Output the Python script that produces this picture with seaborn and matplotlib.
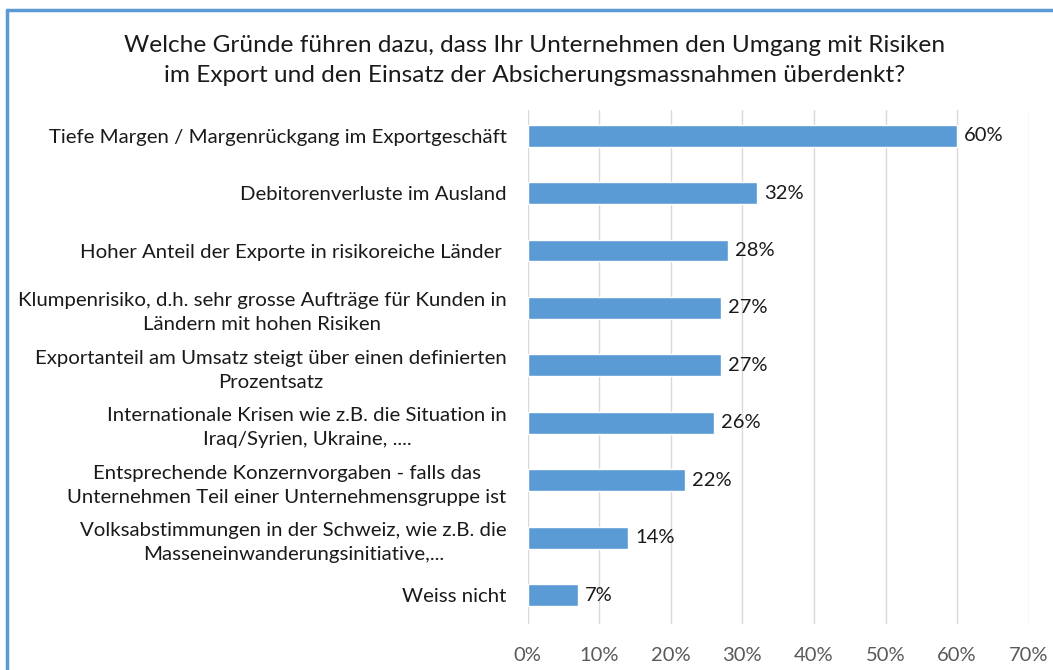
import pandas as pd
import seaborn as sns
import matplotlib.pyplot as plt
from matplotlib.lines import Line2D
from matplotlib.ticker import PercentFormatter

# Data
reasons = [
    'Tiefe Margen / Margenrückgang im Exportgeschäft',
    'Debitorenverluste im Ausland',
    'Hoher Anteil der Exporte in risikoreiche Länder ',
    'Klumpenrisiko, d.h. sehr grosse Aufträge für Kunden in\nLändern mit hohen Risiken',
    'Exportanteil am Umsatz steigt über einen definierten\nProzentsatz',
    'Internationale Krisen wie z.B. die Situation in\nIraq/Syrien, Ukraine, ....',
    'Entsprechende Konzernvorgaben - falls das\nUnternehmen Teil einer Unternehmensgruppe ist',
    'Volksabstimmungen in der Schweiz, wie z.B. die\nMasseneinwanderungsinitiative,...',
    'Weiss nicht',
]
shares = [60, 32, 28, 27, 27, 26, 22, 14, 7]
title = ('Welche Gründe führen dazu, dass Ihr Unternehmen den Umgang mit Risiken\n'
         'im Export und den Einsatz der Absicherungsmassnahmen überdenkt?')

df = pd.DataFrame({'reason': reasons, 'share': shares})

sns.set_style('white')
plt.rcParams['font.family'] = ['Lato', 'DejaVu Sans']

fig = plt.figure(figsize=(10.53, 6.70), dpi=100)
ax = fig.add_axes([0.501, 0.069, 0.476, 0.767])

sns.barplot(data=df, x='share', y='reason', orient='h', color='#5B9BD5',
            width=0.38, saturation=1, ax=ax, zorder=2)

ax.set_xlim(0, 70)
ax.set_ylim(8.5, -0.45)
ax.set_xticks(range(0, 71, 10))
ax.xaxis.set_major_formatter(PercentFormatter(decimals=0))
ax.grid(axis='x', color='#D9D9D9', linewidth=1, zorder=0)
ax.set_xlabel('')
ax.set_ylabel('')
for s in ax.spines.values():
    s.set_visible(False)
ax.tick_params(axis='x', length=0, labelsize=14.5, labelcolor='#595959', pad=17)
ax.tick_params(axis='y', length=0, labelsize=14.7, labelcolor='#1a1a1a', pad=15)
for lbl in ax.get_yticklabels():
    lbl.set_multialignment('center')
    lbl.set_linespacing(1.5)

for i, v in enumerate(shares):
    ax.text(v + 1.0, i, f'{v}%', va='center', ha='left', fontsize=14.5, color='#1a1a1a')

fig.suptitle(title, x=0.508, y=0.948, fontsize=17.6, color='#1a1a1a', linespacing=1.55)

# blue frame along top and left edge
fig.add_artist(Line2D([0.0066, 1], [0.985, 0.985], transform=fig.transFigure,
                      color='#5B9BD5', linewidth=2.5))
fig.add_artist(Line2D([0.0066, 0.0066], [0, 0.985], transform=fig.transFigure,
                      color='#5B9BD5', linewidth=2.5))

fig.savefig('out.png', dpi=100)
